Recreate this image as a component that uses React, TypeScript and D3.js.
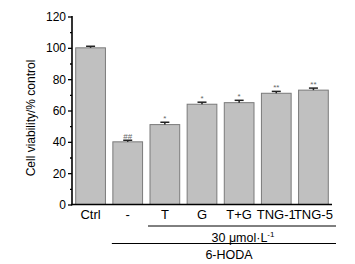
import React, { useEffect, useRef } from "react";
import * as d3 from "d3";

const categories = ["Ctrl", "-", "T", "G", "T+G", "TNG-1", "TNG-5"];
const values = [100, 40, 51, 64, 65, 71, 73];
const errors = [1, 1, 1.5, 1.3, 1.5, 1.2, 1.3];
const marks = ["", "##", "*", "*", "*", "**", "**"];
const yTicks = [0, 20, 40, 60, 80, 100, 120];
const yMinorTicks = [10, 30, 50, 70, 90, 110];

export default function App() {
  const ref = useRef<SVGSVGElement>(null);
  useEffect(() => {
    const svg = d3.select(ref.current);
    svg.selectAll("*").remove();
    const font = "Liberation Sans, Arial, sans-serif";
    const x = d3.scaleBand<string>().domain(categories).range([72, 332]).paddingInner(0.2).paddingOuter(0.1);
    const y = d3.scaleLinear().domain([0, 120]).range([204.5, 16.5]);

    svg.append("rect").attr("width", 355).attr("height", 264).attr("fill", "#fff");

    // bars
    const g = svg.append("g");
    categories.forEach((c, i) => {
      const x0 = x(c)!;
      const bw = x.bandwidth();
      g.append("rect")
        .attr("x", x0)
        .attr("y", y(values[i]))
        .attr("width", bw)
        .attr("height", y(0) - y(values[i]))
        .attr("fill", "#c0c0c0")
        .attr("stroke", "#7a7a7a")
        .attr("stroke-width", 1);
      const cx = x0 + bw / 2;
      const top = y(values[i] + errors[i]);
      g.append("line").attr("x1", cx).attr("x2", cx).attr("y1", y(values[i])).attr("y2", top)
        .attr("stroke", "#222").attr("stroke-width", 1.5);
      g.append("line").attr("x1", cx - 4.5).attr("x2", cx + 4.5).attr("y1", top).attr("y2", top)
        .attr("stroke", "#222").attr("stroke-width", 1.5);
      if (marks[i]) {
        g.append("text").attr("x", cx).attr("y", top - 1.5).attr("text-anchor", "middle")
          .attr("font-family", font).attr("font-size", 8).attr("fill", "#666").text(marks[i]);
      }
    });

    // y axis
    const ax = svg.append("g").attr("transform", "translate(72,0)");
    ax.call(d3.axisLeft(y).tickValues(yTicks).tickSize(4).tickPadding(2).tickFormat(d3.format("d")) as any);
    ax.select(".domain").remove();
    ax.selectAll(".tick line").attr("stroke", "#000").attr("stroke-width", 1.3);
    ax.selectAll(".tick text").attr("font-family", font).attr("font-size", 12).attr("fill", "#000");
    const axm = svg.append("g").attr("transform", "translate(72,0)");
    axm.call(d3.axisLeft(y).tickValues(yMinorTicks).tickSize(2).tickFormat(() => "") as any);
    axm.select(".domain").remove();
    axm.selectAll(".tick line").attr("stroke", "#000").attr("stroke-width", 1.3);
    svg.append("line").attr("x1", 72).attr("x2", 72).attr("y1", y(120) - 0.5).attr("y2", y(0) + 0.8)
      .attr("stroke", "#000").attr("stroke-width", 1.6);
    // x axis
    svg.append("line").attr("x1", 71).attr("x2", 332).attr("y1", y(0)).attr("y2", y(0))
      .attr("stroke", "#000").attr("stroke-width", 1.6);

    // x labels
    categories.forEach((c) => {
      svg.append("text").attr("x", x(c)! + x.bandwidth() / 2).attr("y", 219).attr("text-anchor", "middle")
        .attr("font-family", font).attr("font-size", 13).attr("fill", "#000").text(c);
    });

    // group lines
    const tStart = x("T")! - 2;
    const end = 336;
    svg.append("line").attr("x1", tStart).attr("x2", end).attr("y1", 226).attr("y2", 226)
      .attr("stroke", "#000").attr("stroke-width", 1);
    const t1 = svg.append("text").attr("x", 243).attr("y", 241.5).attr("text-anchor", "middle")
      .attr("font-family", font).attr("font-size", 12.5).attr("fill", "#000");
    t1.append("tspan").text("30 \u03bcmol\u00b7L");
    t1.append("tspan").attr("dy", -5).attr("font-size", 8).text("-1");
    svg.append("line").attr("x1", x("-")! - 1).attr("x2", end).attr("y1", 243.5).attr("y2", 243.5)
      .attr("stroke", "#000").attr("stroke-width", 1);
    svg.append("text").attr("x", 229).attr("y", 258.5).attr("text-anchor", "middle")
      .attr("font-family", font).attr("font-size", 12.5).attr("fill", "#000").text("6-HODA");

    // y title
    svg.append("text").attr("transform", "translate(35,118) rotate(-90)").attr("text-anchor", "middle")
      .attr("font-family", font).attr("font-size", 12).attr("fill", "#000").text("Cell viability/% control");
  }, []);
  return (
    <svg ref={ref} width={355} height={264} style={{ position: "absolute", left: 0, top: 0 }} />
  );
}
